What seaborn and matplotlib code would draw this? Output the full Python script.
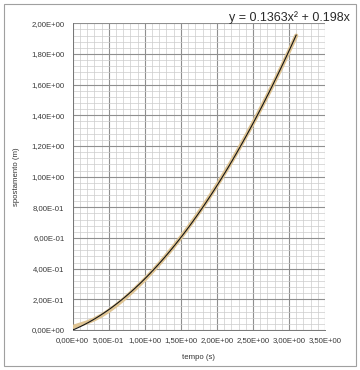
import matplotlib
matplotlib.use("Agg")
import matplotlib.pyplot as plt
import numpy as np
import pandas as pd
import seaborn as sns
from matplotlib.patches import Rectangle
from matplotlib.ticker import FuncFormatter, MultipleLocator

tempo = [0.0, 0.1, 0.2, 0.3, 0.4, 0.5, 0.6, 0.7, 0.8, 0.9, 1.0,
         1.1, 1.2, 1.3, 1.4, 1.5, 1.6, 1.7, 1.8, 1.9, 2.0,
         2.1, 2.2, 2.3, 2.4, 2.5, 2.6, 2.7, 2.8, 2.9, 3.0, 3.1]
spostamento = [0.02, 0.035, 0.05, 0.07, 0.095, 0.125, 0.16, 0.198, 0.24, 0.284, 0.33,
               0.38, 0.432, 0.487, 0.544, 0.604, 0.667, 0.732, 0.80, 0.87, 0.943,
               1.019, 1.097, 1.178, 1.262, 1.348, 1.437, 1.528, 1.622, 1.718, 1.818, 1.92]

# trendline coefficients shown on the chart
coef_a = 0.1363
coef_b = 0.198
equation = "y = 0.1363x\u00b2 + 0.198x"

df = pd.DataFrame({"tempo": tempo, "spostamento": spostamento})
t_fit = np.linspace(0, 3.1, 100)
fit = pd.DataFrame({"tempo": t_fit, "spostamento": coef_a * t_fit**2 + coef_b * t_fit})

sns.set_style("white")
plt.rcParams["font.family"] = ["Liberation Sans", "DejaVu Sans"]

fig = plt.figure(figsize=(3.6, 3.7), dpi=100)
ax = fig.add_axes([0.202, 0.108, 0.701, 0.829])

sns.lineplot(data=df, x="tempo", y="spostamento", ax=ax, color="#dfc493", lw=3.0, zorder=3)
sns.lineplot(data=fit, x="tempo", y="spostamento", ax=ax, color="#151515", lw=0.8, zorder=4)

ax.set_xlim(0, 3.5)
ax.set_ylim(0, 2.0)
ax.xaxis.set_major_locator(MultipleLocator(0.5))
ax.xaxis.set_minor_locator(MultipleLocator(0.1))
ax.yaxis.set_major_locator(MultipleLocator(0.2))
ax.yaxis.set_minor_locator(MultipleLocator(0.04))

fmt = FuncFormatter(lambda v, pos: f"{v:.2E}".replace(".", ","))
ax.xaxis.set_major_formatter(fmt)
ax.yaxis.set_major_formatter(fmt)

ax.grid(which="minor", color="#cccccc", lw=0.5)
ax.grid(which="major", color="#8f8f8f", lw=0.8)
ax.set_axisbelow(True)

ax.tick_params(axis="both", which="major", labelsize=5.6, colors="#3a3a3a",
               length=3, width=0.6, pad=2, direction="out")
ax.tick_params(axis="both", which="minor", length=0)
ax.tick_params(axis="y", pad=3)

for side in ["top", "right"]:
    ax.spines[side].set_visible(False)
for side in ["left", "bottom"]:
    ax.spines[side].set_color("#777777")
    ax.spines[side].set_linewidth(0.7)

ax.set_xlabel("tempo (s)", fontsize=5.6, color="#333333", labelpad=7)
ax.set_ylabel("spostamento (m)", fontsize=5.6, color="#333333", labelpad=8)

fig.text(350 / 360, 1 - 18 / 370, equation, ha="right", va="center",
         fontsize=9, color="#2a2a2a")

fig.patches.append(Rectangle((4 / 360, 4 / 370), 352 / 360, 362 / 370,
                             transform=fig.transFigure, fill=False,
                             edgecolor="#a0a0a0", lw=0.8))

fig.savefig("out.png", dpi=100)
